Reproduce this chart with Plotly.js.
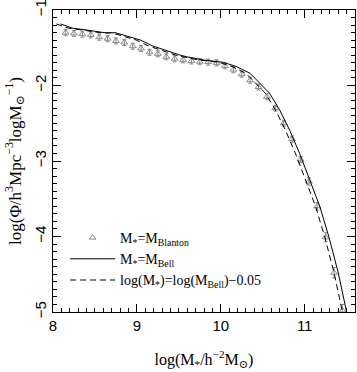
<!DOCTYPE html>
<html>
<head>
<meta charset="utf-8">
<script src="https://cdn.plot.ly/plotly-3.0.1.min.js"></script>
<style>html,body{margin:0;padding:0;background:#fff;}</style>
</head>
<body>
<div id="chart" style="width:357px;height:372px;"></div>
<script>
// Blanton stellar masses (triangles with error bars)
const blantonMass = [8.15, 8.25, 8.35, 8.45, 8.55, 8.65, 8.75, 8.85, 8.95, 9.05,
  9.15, 9.25, 9.35, 9.45, 9.55, 9.65, 9.75, 9.85, 9.95, 10.05,
  10.15, 10.25, 10.35, 10.45, 10.55, 10.65, 10.75, 10.85, 10.95, 11.05,
  11.15, 11.25, 11.35, 11.45];
const blantonPhi = [-1.30, -1.31, -1.32, -1.33, -1.36, -1.38, -1.41, -1.43, -1.48, -1.51,
  -1.56, -1.58, -1.62, -1.645, -1.66, -1.675, -1.685, -1.69, -1.70, -1.74,
  -1.79, -1.85, -1.93, -2.02, -2.15, -2.30, -2.50, -2.71, -2.98, -3.27,
  -3.60, -4.01, -4.48, -4.98];
const blantonErr = [0.04, 0.04, 0.04, 0.04, 0.04, 0.04, 0.04, 0.04, 0.04, 0.04,
  0.04, 0.04, 0.04, 0.04, 0.04, 0.04, 0.04, 0.04, 0.04, 0.04,
  0.04, 0.04, 0.04, 0.04, 0.04, 0.04, 0.04, 0.04, 0.04, 0.05,
  0.05, 0.06, 0.07, 0.08];

// Bell stellar masses (solid line)
const bellMass = [8.09, 8.24, 8.40, 8.56, 8.64, 8.74, 8.80, 8.88, 9.04, 9.19,
  9.35, 9.51, 9.59, 9.79, 10.03, 10.19, 10.35, 10.46, 10.58, 10.70,
  10.82, 10.94, 11.06, 11.18, 11.29, 11.40, 11.50, 11.53];
const bellPhi = [-1.185, -1.243, -1.265, -1.287, -1.305, -1.300, -1.318, -1.340, -1.397, -1.477,
  -1.539, -1.596, -1.618, -1.662, -1.693, -1.751, -1.839, -1.970, -2.100, -2.320,
  -2.590, -2.900, -3.250, -3.600, -4.010, -4.480, -5.000, -5.150];

// log(M*) = log(M_Bell) - 0.05 (dashed line)
const shiftMass = [8.04, 8.19, 8.35, 8.51, 8.59, 8.69, 8.75, 8.83, 8.99, 9.14,
  9.30, 9.46, 9.54, 9.74, 9.98, 10.14, 10.30, 10.41, 10.53, 10.65,
  10.77, 10.89, 11.01, 11.13, 11.24, 11.35, 11.45, 11.48];
const shiftPhi = [-1.185, -1.243, -1.265, -1.287, -1.305, -1.300, -1.318, -1.340, -1.397, -1.477,
  -1.539, -1.596, -1.618, -1.662, -1.693, -1.751, -1.839, -1.970, -2.100, -2.320,
  -2.590, -2.900, -3.250, -3.600, -4.010, -4.480, -5.000, -5.150];

const xTicks = [8, 9, 10, 11];
const yTicks = [-5, -4, -3, -2, -1];
const legendNames = [
  'M<sub>*</sub>=M<sub>Blanton</sub>',
  'M<sub>*</sub>=M<sub>Bell</sub>',
  'log(M<sub>*</sub>)=log(M<sub>Bell</sub>)−0.05'
];

const serif = '"Liberation Serif", "DejaVu Serif", serif';
const sans = '"Liberation Sans", "DejaVu Sans", sans-serif';

const traces = [
  {
    x: blantonMass, y: blantonPhi, type: 'scatter', mode: 'markers', name: legendNames[0],
    marker: {symbol: 'triangle-up-open', size: 6, color: '#808080', line: {width: 0.9, color: '#808080'}},
    error_y: {type: 'data', array: blantonErr, visible: true, color: '#808080', thickness: 0.9, width: 2}
  },
  {
    x: bellMass, y: bellPhi, type: 'scatter', mode: 'lines', name: legendNames[1],
    line: {color: '#000', width: 1}
  },
  {
    x: shiftMass, y: shiftPhi, type: 'scatter', mode: 'lines', name: legendNames[2],
    line: {color: '#000', width: 1, dash: '6px,4px'}
  }
];

const axisCommon = {
  showgrid: false, zeroline: false, showline: true, linecolor: '#000', linewidth: 1,
  mirror: 'ticks', ticks: 'inside', ticklen: 8, tickwidth: 1, tickcolor: '#000',
  ticklabeloverflow: 'allow',
  tickfont: {family: sans, size: 15, color: '#000'},
  minor: {dtick: 0.1, ticks: 'inside', ticklen: 4, tickwidth: 1, tickcolor: '#000', showgrid: false}
};

const layout = {
  width: 357, height: 372,
  margin: {l: 53, r: 2, t: 10, b: 60},
  paper_bgcolor: '#fff', plot_bgcolor: '#fff',
  showlegend: true,
  legend: {
    x: 0.04, y: 0.298, xanchor: 'left', yanchor: 'top',
    bgcolor: 'rgba(0,0,0,0)', borderwidth: 0,
    font: {family: serif, size: 14, color: '#000'},
    itemwidth: 45, tracegroupgap: 0
  },
  xaxis: Object.assign({}, axisCommon, {
    range: [8, 11.6], tickmode: 'array', tickvals: xTicks, ticktext: xTicks.map(String),
    title: {text: 'log(M<sub>*</sub>/h<sup>−2</sup>M<sub>⊙</sub>)', font: {family: serif, size: 16, color: '#000'}, standoff: 20}
  }),
  yaxis: Object.assign({}, axisCommon, {
    range: [-5, -1], tickmode: 'array', tickvals: yTicks, tickangle: -90,
    title: {text: 'log(Φ/h<sup>3</sup>Mpc<sup>−3</sup>logM<sub>⊙</sub><sup>−1</sup>)', font: {family: serif, size: 17, color: '#000'}, standoff: 6}
  })
};

Plotly.newPlot('chart', traces, layout, {displayModeBar: false, staticPlot: true});
</script>
</body>
</html>
